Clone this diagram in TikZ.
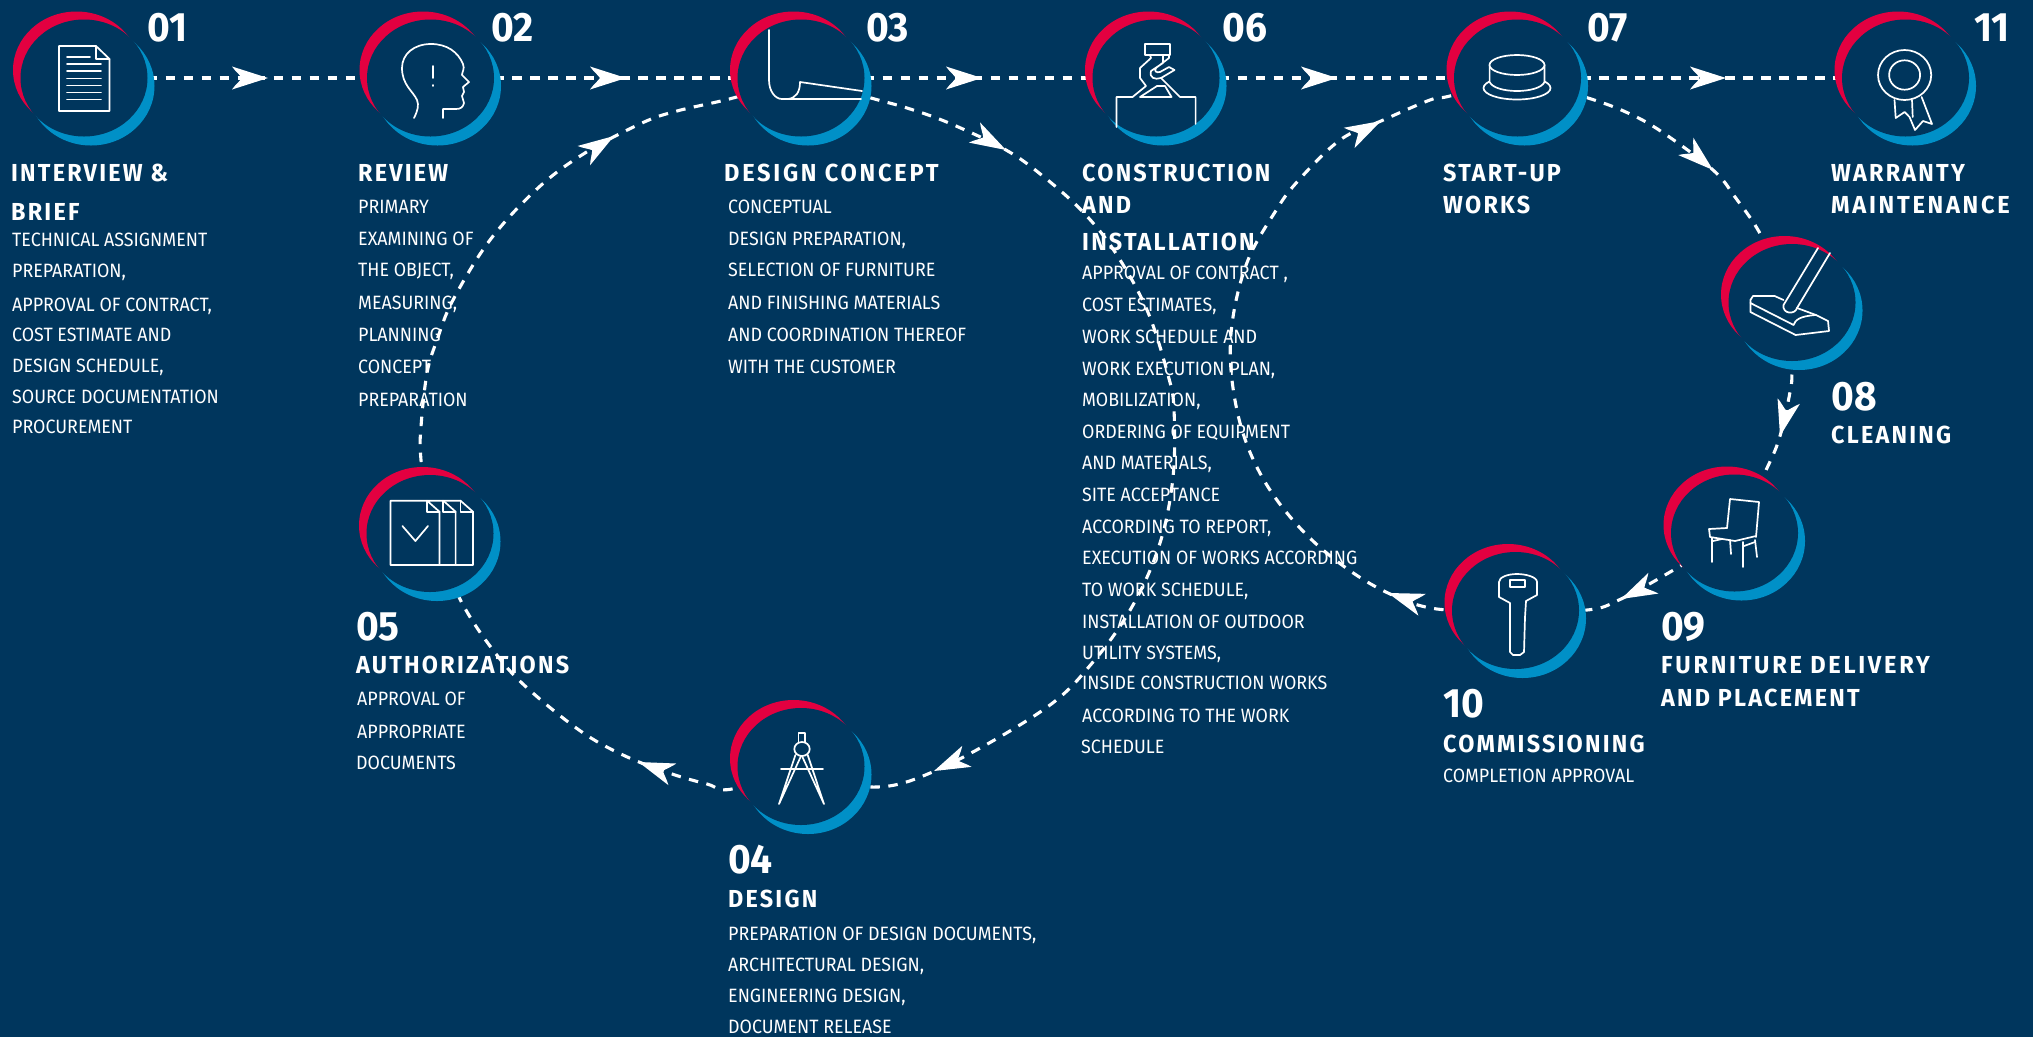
\documentclass[tikz,border=0pt]{standalone}
\usepackage{fontspec}
\setmainfont{Fira Sans}
\newfontfamily\bodyfont[FakeStretch=0.925]{Fira Sans}
\newfontfamily\titlefont[LetterSpace=9,FakeStretch=0.95]{Fira Sans Bold}
\newfontfamily\titlewide[LetterSpace=11,FakeStretch=0.96]{Fira Sans Bold}
\newfontfamily\numfont[FakeStretch=0.95]{Fira Sans Bold}
\usetikzlibrary{shapes.geometric}
\definecolor{navy}{RGB}{0,54,93}
\definecolor{crimson}{RGB}{227,0,64}
\definecolor{sky}{RGB}{0,144,199}
\pgfdeclarelayer{bg}\pgfdeclarelayer{txt}\pgfdeclarelayer{conn}
\pgfsetlayers{bg,txt,conn,main}
\newcounter{ln}
\tikzset{
  inner/.style={ellipse,fill=navy,minimum width=127pt,minimum height=117pt,inner sep=0pt,outer sep=0pt},
  conn/.style={draw=white,line width=3.1pt,dash pattern=on 9.5pt off 8.5pt},
  icon/.style={draw=white,line width=1.7pt,line join=round,line cap=round},
  bodyline/.style={anchor=base west,inner sep=0pt,text=white,font=\bodyfont\fontsize{19.3}{20}\selectfont},
  titleline/.style={anchor=base west,inner sep=0pt,text=white,font=\titlefont\fontsize{24.6}{26}\selectfont},
  numline/.style={anchor=base west,inner sep=0pt,text=white,font=\numfont\fontsize{41}{42}\selectfont},
  ahead/.pic={\fill[white] (0,0) -- (-36,-11.5) .. controls (-33,-7) and (-28,-3) .. (-26,0) .. controls (-28,3) and (-33,7) .. (-36,11.5) -- cycle;}
}
\newcommand\stepdisc[3]{%
  \fill[sky] (#2+7,#3+8) ellipse [x radius=63.5,y radius=59.5];
  \fill[crimson] (#2-7.5,#3-8) ellipse [x radius=63.5,y radius=58.5];
  \node[inner] (#1) at (#2,#3) {};}
\newcommand\bl[3]{\stepcounter{ln}\begin{pgfonlayer}{txt}\node[bodyline] (b\theln) at (#1,#2) {#3};\end{pgfonlayer}}
\newcommand\tl[3]{\stepcounter{ln}\begin{pgfonlayer}{txt}\node[titleline] (t\theln) at (#1,#2) {#3};\end{pgfonlayer}}
\newcommand\tlw[3]{\stepcounter{ln}\begin{pgfonlayer}{txt}\node[titleline] (t\theln) at (#1,#2) {\titlewide\fontsize{24.6}{26}\selectfont #3};\end{pgfonlayer}}
\newcommand\nl[3]{\stepcounter{ln}\begin{pgfonlayer}{txt}\node[numline] (n\theln) at (#1,#2) {#3};\end{pgfonlayer}}
\newcommand\tip[3]{\pic[rotate=#3] at (#1,#2) {ahead};}
\begin{document}
\begin{tikzpicture}[x=1pt,y=-1pt]
\useasboundingbox (0,0) rectangle (2033,1037);
\begin{pgfonlayer}{bg}\fill[navy] (0,0) rectangle (2033,1037);\end{pgfonlayer}
% discs
\stepdisc{c01}{84}{78}
\stepdisc{c02}{430.5}{78}
\stepdisc{c03}{801}{78}
\stepdisc{c06}{1156}{78}
\stepdisc{c07}{1517.5}{78}
\stepdisc{c11}{1905.5}{78}
\stepdisc{c08}{1792}{302.5}
\stepdisc{c09}{1734.5}{533}
\stepdisc{c10}{1515.5}{610.5}
\stepdisc{c05}{430}{533.5}
\stepdisc{c04}{801}{766.5}
% connectors
\begin{pgfonlayer}{conn}
\draw[conn] (c01) -- (c02);
\draw[conn] (c02) -- (c03);
\draw[conn] (c03) -- (c06);
\draw[conn] (c06) -- (c07);
\draw[conn] (c07) -- (c11);
\draw[conn] plot[smooth,tension=0.6] coordinates {(c03) (871,98) (907,108) (949,123) (1006,150) (1044,177) (1083,212) (1115,252) (1147,310) (1168,375) (1174,410) (1173,477) (1160,543) (1133,605) (1093,662) (1043,710) (937,770) (870,787) (c04)};
\draw[conn] plot[smooth,tension=0.6] coordinates {(c04) (732,789) (707,784) (669,773) (623,755) (579,730) (524,685) (493,650) (462,603) (c05)};
\draw[conn] plot[smooth,tension=0.6] coordinates {(c05) (421,460) (421,427) (427,373) (437,340) (453,300) (490,240) (538,188) (585,153) (642,123) (677,111) (733,98) (c03)};
\draw[conn] plot[smooth,tension=0.6] coordinates {(c07) (1588,98) (1628,113) (1662,132) (1713,170) (1735,197) (1762,237) (c08)};
\draw[conn] plot[smooth,tension=0.6] coordinates {(c08) (1792,370) (1790,392) (1780,436) (1767,468) (c09)};
\draw[conn] plot[smooth,tension=0.6] coordinates {(c09) (1677,568) (1621,599) (1587,610) (c10)};
\draw[conn] plot[smooth,tension=0.6] coordinates {(c10) (1437,609) (1388,593) (1342,565) (1300,528) (1265,482) (1242,430) (1231,370) (1233,317) (1248,260) (1275,212) (1297,182) (1340,140) (1381,121) (1430,100) (1450,96) (c07)};
\tip{268}{78}{0}
\tip{626}{78}{0}
\tip{982}{78}{0}
\tip{1337}{78}{0}
\tip{1726}{78}{0}
\tip{1006}{150}{-29}
\tip{934}{771}{204}
\tip{638.5}{762}{160}
\tip{614}{136}{33}
\tip{1713}{170}{-41}
\tip{1780}{436}{-104}
\tip{1621}{599}{206}
\tip{1388}{593}{161}
\tip{1381}{121}{28}
\end{pgfonlayer}
% numbers
\nl{147}{41.7}{01}
\nl{491}{41.7}{02}
\nl{866}{41.7}{03}
\nl{1222}{41.7}{06}
\nl{1587}{41.7}{07}
\nl{1974}{41.7}{11}
\nl{1831}{410}{08}
\nl{1661}{640}{09}
\nl{1443}{717}{10}
\nl{356}{640.5}{05}
\nl{728}{873}{04}
% titles
\tl{11}{181}{INTERVIEW \&}
\tl{11}{220}{BRIEF}
\tl{358}{181}{REVIEW}
\tlw{724}{181}{DESIGN CONCEPT}
\tl{1082}{181}{CONSTRUCTION}
\tl{1082}{213}{AND}
\tl{1082}{250}{INSTALLATION}
\tl{1443}{181}{START-UP}
\tl{1443}{213}{WORKS}
\tl{1831}{181}{WARRANTY}
\tlw{1831}{213}{MAINTENANCE}
\tl{1831}{443}{CLEANING}
\tlw{1661}{673}{FURNITURE DELIVERY}
\tl{1661}{706}{AND PLACEMENT}
\tl{1443}{752}{COMMISSIONING}
\tl{356}{673}{AUTHORIZATIONS}
\tl{728}{907}{DESIGN}
% bodies
\bl{12}{246}{TECHNICAL ASSIGNMENT}
\bl{12}{277}{PREPARATION,}
\bl{12}{311}{APPROVAL OF CONTRACT,}
\bl{12}{341}{COST ESTIMATE AND}
\bl{12}{372}{DESIGN SCHEDULE,}
\bl{12}{403}{SOURCE DOCUMENTATION}
\bl{12}{433}{PROCUREMENT}
\bl{358}{213}{PRIMARY}
\bl{358}{245}{EXAMINING OF}
\bl{358}{276}{THE OBJECT,}
\bl{358}{309}{MEASURING,}
\bl{358}{341}{PLANNING}
\bl{358}{373}{CONCEPT}
\bl{358}{406}{PREPARATION}
\bl{728}{213}{CONCEPTUAL}
\bl{728}{245}{DESIGN PREPARATION,}
\bl{728}{276}{SELECTION OF FURNITURE}
\bl{728}{309}{AND FINISHING MATERIALS}
\bl{728}{341}{AND COORDINATION THEREOF}
\bl{728}{373}{WITH THE CUSTOMER}
\bl{1082}{279}{APPROVAL OF CONTRACT ,}
\bl{1082}{311}{COST ESTIMATES,}
\bl{1082}{343}{WORK SCHEDULE AND}
\bl{1082}{375}{WORK EXECUTION PLAN,}
\bl{1082}{406}{MOBILIZATION,}
\bl{1082}{438}{ORDERING OF EQUIPMENT}
\bl{1082}{469}{AND MATERIALS,}
\bl{1082}{501}{SITE ACCEPTANCE}
\bl{1082}{533}{ACCORDING TO REPORT,}
\bl{1082}{564}{EXECUTION OF WORKS ACCORDING}
\bl{1082}{596}{TO WORK SCHEDULE,}
\bl{1082}{628}{INSTALLATION OF OUTDOOR}
\bl{1082}{659}{UTILITY SYSTEMS,}
\bl{1082}{689}{INSIDE CONSTRUCTION WORKS}
\bl{1082}{722}{ACCORDING TO THE WORK}
\bl{1081}{753}{SCHEDULE}
\bl{1443}{782}{COMPLETION APPROVAL}
\bl{357}{705}{APPROVAL OF}
\bl{357}{738}{APPROPRIATE}
\bl{356}{769}{DOCUMENTS}
\bl{728}{940}{PREPARATION OF DESIGN DOCUMENTS,}
\bl{728}{971}{ARCHITECTURAL DESIGN,}
\bl{728}{1002}{ENGINEERING DESIGN,}
\bl{728}{1033}{DOCUMENT RELEASE}
% icon 01
\draw[icon] (59,46) -- (96,46) -- (109.5,59) -- (109.5,111) -- (59,111) -- cycle;
\draw[icon] (96,46) -- (96,59) -- (109.5,59);
\draw[icon] (67,57) -- (90,57);
\foreach \yy in {64,71,78.5,85.5,92.5,99.5} \draw[icon] (67,\yy) -- (101,\yy);
% icon 02
\draw[icon] (414,118) .. controls (418,110) and (419,105) .. (417,100) .. controls (413,91) and (402,85) .. (402,68) .. controls (402,54) and (414,44) .. (431,44) .. controls (447,44) and (458,52) .. (463,64) .. controls (465,69) and (462,72) .. (462,75) -- (469,82) -- (463,87) -- (464,92) -- (462,96) -- (464,103) .. controls (463,107) and (461,109) .. (456,109) -- (443,109) -- (443,118);
\draw[icon] (433,66) -- (433,78);
\draw[icon] (433,85) -- (433,86);
% icon 03
\draw[icon] (769,30) -- (769,80) .. controls (769,91) and (775,99) .. (782,99) -- (861,99);
\draw[icon] (788,99) .. controls (796,98) and (800,92) .. (800,82) -- (862,91);
% icon 06
\draw[icon] (1145,44) rectangle (1170,55);
\draw[icon] (1150,55) -- (1151,58) -- (1140,68) -- (1140,78) -- (1146,86) -- (1132.5,97) -- (1116.5,97) -- (1116.5,127);
\draw[icon] (1163,55) -- (1163,63) -- (1151,71) .. controls (1149,78) and (1155,80) .. (1161,78) -- (1174.5,70) -- (1169,67) -- (1160,72) .. controls (1156,73) and (1154,71) .. (1156,68) -- (1169,58) -- (1169,55);
\draw[icon] (1161,78) -- (1180,97) -- (1195.6,97) -- (1195.6,124);
\draw[icon] (1140,97) -- (1157,86) -- (1165,86) -- (1171.5,97) -- cycle;
% icon 07
\filldraw[icon,fill=navy] (1517,88) ellipse [x radius=33.5,y radius=11.5];
\filldraw[icon,fill=navy] (1489.6,65) -- (1489.6,82) .. controls (1495,94) and (1539,94) .. (1544.5,82) -- (1544.5,65);
\filldraw[icon,fill=navy] (1517,65) ellipse [x radius=27.5,y radius=10];
% icon 11
\draw[icon] (1904.6,75) ellipse [x radius=26.6,y radius=25];
\draw[icon] (1904.6,75) ellipse [x radius=15.5,y radius=14.7];
\draw[icon] (1894.5,100) -- (1895.7,118) -- (1904.6,112) -- (1909.5,117) -- (1915,130) -- (1923,121) -- (1932,124) -- (1921.6,97);
\draw[icon] (1912,100) -- (1912.7,117);
% icon 08
\draw[icon] (1818,248) -- (1783.5,305) .. controls (1782,314) and (1795,315) .. (1797,308) -- (1830,253);
\draw[icon] (1783.5,300) -- (1774.6,296) -- (1753,296) -- (1750.4,300) -- (1750.4,312) -- (1795.6,335) -- (1829,331) -- (1828,321) -- (1816,315) -- (1797,308);
\draw[icon] (1750.4,303) -- (1793.6,325) .. controls (1795,320) and (1800,316) .. (1816,315);
% icon 09
\draw[icon] (1727,528) -- (1730,499) -- (1759,502) -- (1756,537);
\draw[icon] (1727,528) -- (1709,529) -- (1710,537) -- (1735,541) -- (1756,536);
\draw[icon] (1712,538) -- (1712,562);
\draw[icon] (1743,542) -- (1743,567);
\draw[icon] (1755,540) -- (1757,557);
\draw[icon] (1730,540) -- (1731,554);
\draw[icon] (1713,541) -- (1722,539);
\draw[icon] (1744,546) -- (1755,542);
% icon 10
\draw[icon] (1499,582) .. controls (1499,577) and (1508,574) .. (1517,574) .. controls (1526,574) and (1537,577) .. (1537,582) -- (1537,595) -- (1526,601) -- (1525,617) -- (1524,652) -- (1520,655) -- (1513,655) -- (1510,652) -- (1510,603) -- (1499,597) -- cycle;
\draw[icon] (1510,580) rectangle (1525,587);
% icon 05
\draw[icon] (427,500.7) -- (390.5,500.7) -- (390.5,565) -- (473,565) -- (473,511.7) -- (460.5,500.7) -- (427,500.7) -- (439.5,511.7) -- (439.5,565);
\draw[icon] (443.3,500.7) -- (455.6,511.7) -- (455.6,565);
\draw[icon] (427,500.7) -- (427,511.7) -- (439.5,511.7);
\draw[icon] (443.3,500.7) -- (443.3,511.7) -- (455.6,511.7);
\draw[icon] (460.5,500.7) -- (460.5,511.7) -- (473,511.7);
\draw[icon] (402.4,526) -- (415.4,541) -- (428,526);
% icon 04
\draw[icon] (798.5,742) -- (798.5,733.3) -- (805,733.3) -- (805,742);
\draw[icon] (802,749) ellipse [x radius=7.7,y radius=7];
\draw[icon] (781,769) -- (823,769);
\draw[icon] (795.4,755) -- (779,804) -- (801,756);
\draw[icon] (802,756) -- (824,804) -- (807.7,755);
\end{tikzpicture}
\end{document}
